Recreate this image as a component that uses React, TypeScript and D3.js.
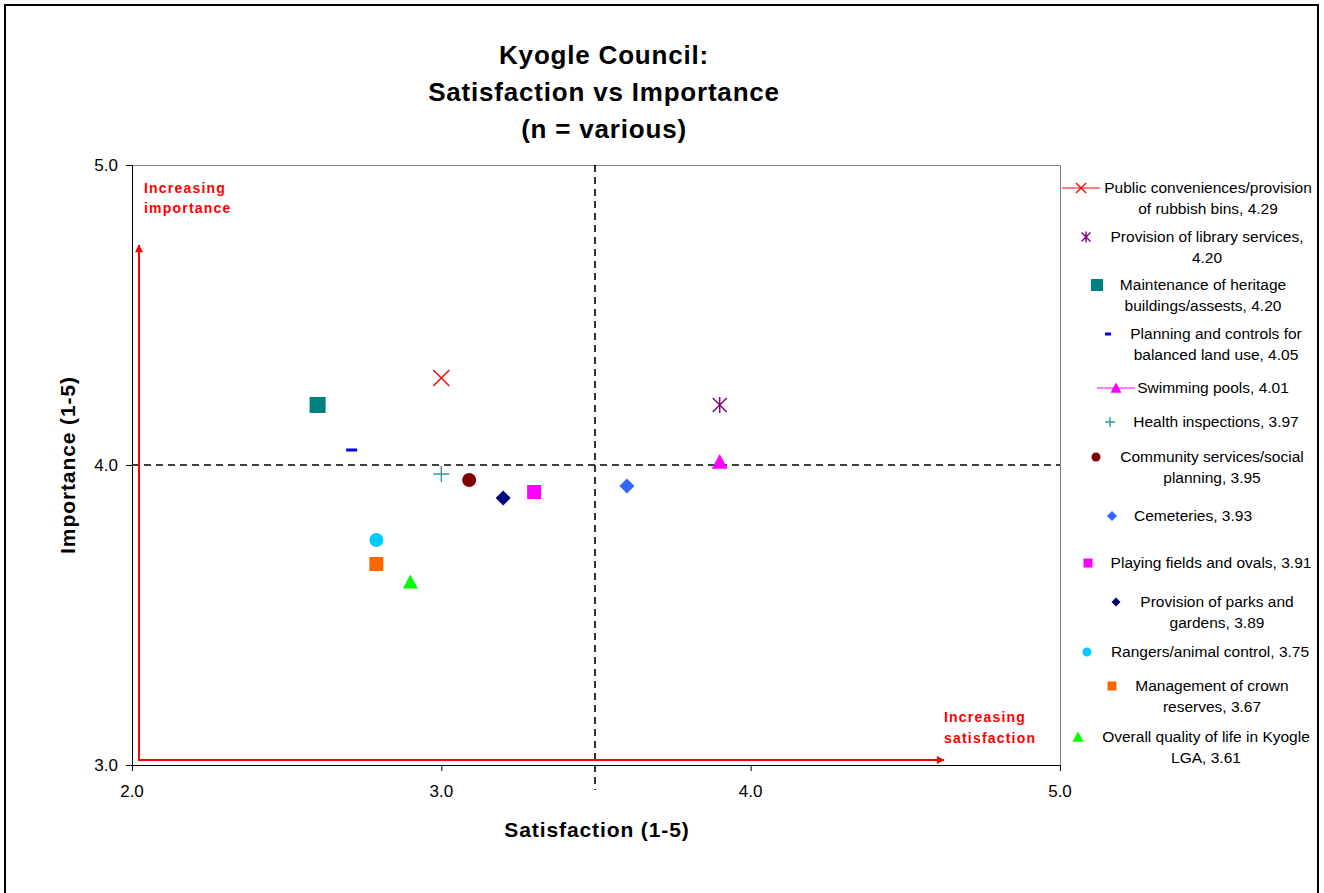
import React from "react";
import * as d3 from "d3";

const titleLines = ["Kyogle Council:", "Satisfaction vs Importance", "(n = various)"];
const xTicks = [2.0, 3.0, 4.0, 5.0];
const yTicks = [3.0, 4.0, 5.0];
const xTitle = "Satisfaction (1-5)";
const yTitle = "Importance (1-5)";
const midX = 3.5;
const midY = 4.0;

const labels: string[][] = [
  ["Public conveniences/provision", "of rubbish bins, 4.29"],
  ["Provision of library services,", "4.20"],
  ["Maintenance of heritage", "buildings/assests, 4.20"],
  ["Planning and controls for", "balanced land use, 4.05"],
  ["Swimming pools, 4.01"],
  ["Health inspections, 3.97"],
  ["Community services/social", "planning, 3.95"],
  ["Cemeteries, 3.93"],
  ["Playing fields and ovals, 3.91"],
  ["Provision of parks and", "gardens, 3.89"],
  ["Rangers/animal control, 3.75"],
  ["Management of crown", "reserves, 3.67"],
  ["Overall quality of life in Kyogle", "LGA, 3.61"],
];
const satisfaction = [3.0, 3.9, 2.6, 2.71, 3.9, 3.0, 3.09, 3.6, 3.3, 3.2, 2.79, 2.79, 2.9];
const importance = [4.29, 4.2, 4.2, 4.05, 4.01, 3.97, 3.95, 3.93, 3.91, 3.89, 3.75, 3.67, 3.61];
const colors = ["#FF0000", "#800080", "#008080", "#0000FF", "#FF00FF", "#339999", "#800000", "#3366FF", "#FF00FF", "#000080", "#00CCFF", "#FF6600", "#00FF00"];
const shapes = ["x", "star", "square", "dash", "triangle", "plus", "circle", "diamond", "square", "diamond", "circle", "square", "triangle"];
const plotSizes = [16, 14, 16, 11, 16, 16, 14, 15, 14, 15, 14, 14, 15];
const legendSizes = [10, 9, 12, 6, 11, 10, 9, 10, 9, 9, 9, 9, 11];
const hasLine = [true, false, false, false, true, false, false, false, false, false, false, false, false];

// legend layout: marker x, marker y (first line), text center x
const legendMarkerX = [1081, 1086, 1097, 1108, 1116, 1110, 1096, 1112, 1088, 1116, 1087, 1112, 1078];
const legendY = [188, 237, 285, 334, 388, 422, 457, 516, 563, 602, 652, 686, 737];
const legendTextX = [1208, 1207, 1203, 1216, 1213, 1216, 1212, 1193, 1211, 1217, 1210, 1212, 1206];

const FONT = "'Liberation Sans', Arial, Helvetica, sans-serif";

function Marker({ shape, x, y, size, color }: { shape: string; x: number; y: number; size: number; color: string }) {
  const h = size / 2;
  switch (shape) {
    case "x":
      return (
        <path d={`M${x - h},${y - h}L${x + h},${y + h}M${x - h},${y + h}L${x + h},${y - h}`} stroke={color} strokeWidth={1.4} fill="none" />
      );
    case "star":
      return (
        <path
          d={`M${x - h},${y - h}L${x + h},${y + h}M${x - h},${y + h}L${x + h},${y - h}M${x},${y - h - 1}L${x},${y + h + 1}`}
          stroke={color}
          strokeWidth={1.4}
          fill="none"
        />
      );
    case "plus":
      return <path d={`M${x - h},${y}L${x + h},${y}M${x},${y - h}L${x},${y + h}`} stroke={color} strokeWidth={1.4} fill="none" />;
    case "dash":
      return <rect x={x - h} y={y - 1.5} width={size} height={3} fill={color} />;
    case "square":
      return <rect x={x - h} y={y - h} width={size} height={size} fill={color} />;
    case "circle":
      return <circle cx={x} cy={y} r={h} fill={color} />;
    case "diamond":
      return <path d={`M${x},${y - h}L${x + h},${y}L${x},${y + h}L${x - h},${y}Z`} fill={color} />;
    case "triangle":
      return <path d={`M${x},${y - h}L${x + h},${y + h * 0.85}L${x - h},${y + h * 0.85}Z`} fill={color} />;
    default:
      return null;
  }
}

export default function App() {
  const W = 1324;
  const H = 893;
  const left = 132;
  const right = 1060;
  const top = 165;
  const bottom = 765;
  const x = d3.scaleLinear().domain([2, 5]).range([left, right]);
  const y = d3.scaleLinear().domain([3, 5]).range([bottom, top]);

  return (
    <svg width={W} height={H} style={{ position: "absolute", left: 0, top: 0, background: "#fff" }} fontFamily={FONT}>
      <defs>
        <marker id="arrow" viewBox="0 0 10 10" refX="9" refY="5" markerWidth="5" markerHeight="4" orient="auto" markerUnits="strokeWidth">
          <path d="M0,0L10,5L0,10Z" fill="#FF0000" />
        </marker>
      </defs>
      <rect x={0} y={0} width={W} height={H} fill="#fff" />
      {/* outer border */}
      <path d={`M5,${H + 5}L5,5L1318,5L1318,${H + 5}`} fill="none" stroke="#000" strokeWidth={2} />

      {/* title */}
      {titleLines.map((t, i) => (
        <text key={i} x={604} y={64 + i * 37} textAnchor="middle" fontSize={26} fontWeight="bold" letterSpacing={0.8} fill="#000">
          {t}
        </text>
      ))}

      {/* plot area border */}
      <path d={`M${left},${top + 0.5}L${right + 0.5},${top + 0.5}L${right + 0.5},${bottom}`} fill="none" stroke="#808080" strokeWidth={1} />

      {/* dashed reference lines */}
      <line x1={x(midX) - 1} x2={x(midX) - 1} y1={top} y2={790} stroke="#000" strokeWidth={1.6} strokeDasharray="7,5" />
      <line x1={left} x2={right} y1={y(midY)} y2={y(midY)} stroke="#000" strokeWidth={1.4} strokeDasharray="7,5" />

      {/* axes */}
      <line x1={left + 0.5} x2={left + 0.5} y1={top} y2={bottom} stroke="#000" strokeWidth={1} />
      <line x1={left} x2={right} y1={bottom + 0.5} y2={bottom + 0.5} stroke="#000" strokeWidth={1} />
      {yTicks.map((t) => (
        <g key={"y" + t}>
          <line x1={left - 6} x2={left} y1={y(t) + 0.5} y2={y(t) + 0.5} stroke="#000" />
          <text x={left - 14} y={y(t) + 6} textAnchor="end" fontSize={17} fill="#000">
            {t.toFixed(1)}
          </text>
        </g>
      ))}
      {xTicks.map((t) => (
        <g key={"x" + t}>
          <line x1={x(t) + 0.5} x2={x(t) + 0.5} y1={bottom} y2={bottom + 6} stroke="#000" />
          <text x={x(t)} y={797} textAnchor="middle" fontSize={17} fill="#000">
            {t.toFixed(1)}
          </text>
        </g>
      ))}

      {/* axis titles */}
      <text x={597} y={837} textAnchor="middle" fontSize={21} fontWeight="bold" letterSpacing={0.9} fill="#000">
        {xTitle}
      </text>
      <text transform={`translate(75,465) rotate(-90)`} textAnchor="middle" fontSize={21} fontWeight="bold" letterSpacing={0.9} fill="#000">
        {yTitle}
      </text>

      {/* red annotation arrows */}
      <line x1={139} y1={760} x2={139} y2={245} stroke="#FF0000" strokeWidth={2} markerEnd="url(#arrow)" />
      <line x1={138} y1={760} x2={944} y2={760} stroke="#FF0000" strokeWidth={2} markerEnd="url(#arrow)" />
      <text x={144} y={193} fontSize={14} fontWeight="bold" fill="#FF0000" letterSpacing={1.2}>
        Increasing
      </text>
      <text x={144} y={213} fontSize={14} fontWeight="bold" fill="#FF0000" letterSpacing={1.2}>
        importance
      </text>
      <text x={944} y={722} fontSize={14} fontWeight="bold" fill="#FF0000" letterSpacing={1.2}>
        Increasing
      </text>
      <text x={944} y={743} fontSize={14} fontWeight="bold" fill="#FF0000" letterSpacing={1.2}>
        satisfaction
      </text>

      {/* points */}
      {labels.map((_, i) => (
        <Marker key={"p" + i} shape={shapes[i]} x={x(satisfaction[i])} y={y(importance[i])} size={plotSizes[i]} color={colors[i]} />
      ))}

      {/* legend */}
      {labels.map((lines, i) => (
        <g key={"l" + i}>
          {hasLine[i] && (
            <line x1={legendMarkerX[i] - 19} x2={legendMarkerX[i] + 19} y1={legendY[i]} y2={legendY[i]} stroke={colors[i]} strokeWidth={1.2} />
          )}
          <Marker shape={shapes[i]} x={legendMarkerX[i]} y={legendY[i]} size={legendSizes[i]} color={colors[i]} />
          {lines.map((t, j) => (
            <text key={j} x={legendTextX[i]} y={legendY[i] + 5 + j * 21} textAnchor="middle" fontSize={15.5} fill="#000">
              {t}
            </text>
          ))}
        </g>
      ))}
    </svg>
  );
}
